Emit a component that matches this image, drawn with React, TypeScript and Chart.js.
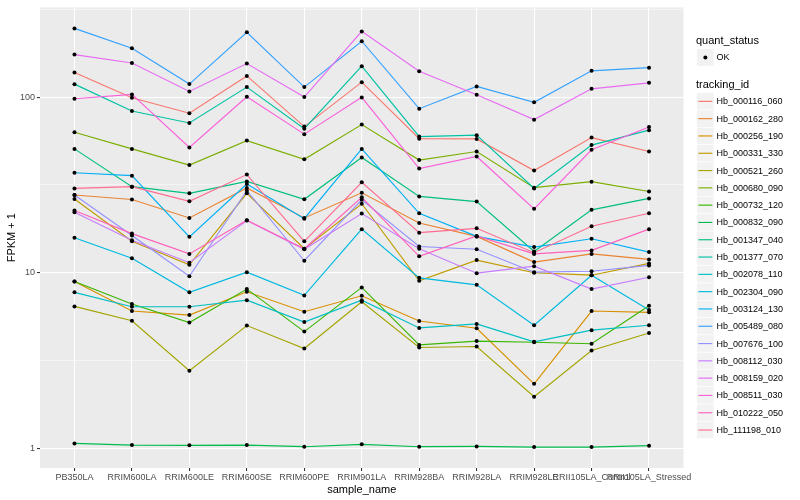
import React, { useEffect, useRef } from "react";
import { Chart, registerables } from "chart.js";
Chart.register(...registerables);

const FONT = "'Liberation Sans', Arial, Helvetica, sans-serif";

const categories = [
  "PB350LA", "RRIM600LA", "RRIM600LE", "RRIM600SE", "RRIM600PE", "RRIM901LA",
  "RRIM928BA", "RRIM928LA", "RRIM928LE", "RRII105LA_Control", "RRII105LA_Stressed",
];

const trackingIds = [
  "Hb_000116_060", "Hb_000162_280", "Hb_000256_190", "Hb_000331_330", "Hb_000521_260",
  "Hb_000680_090", "Hb_000732_120", "Hb_000832_090", "Hb_001347_040", "Hb_001377_070",
  "Hb_002078_110", "Hb_002304_090", "Hb_003124_130", "Hb_005489_080", "Hb_007676_100",
  "Hb_008112_030", "Hb_008159_020", "Hb_008511_030", "Hb_010222_050", "Hb_111198_010",
];

const colors = [
  "#F8766D", "#EA8331", "#D89000", "#C09B00", "#A3A500", "#7CAE00", "#39B600", "#00BB4E",
  "#00BF7D", "#00C1A3", "#00BFC4", "#00BAE0", "#00B0F6", "#35A2FF", "#9590FF", "#C77CFF",
  "#E76BF3", "#FA62DB", "#FF62BC", "#FF6C91",
];

const hb_000116_060 = [138, 99.1, 80.9, 132, 67.9, 121.6, 58.0, 57.8, 38.2, 58.8, 49.0];
const hb_000162_280 = [27.7, 26.1, 20.5, 30.4, 20.5, 28.5, 19.2, 16.1, 11.5, 12.8, 11.9];
const hb_000256_190 = [8.91, 6.05, 5.74, 7.79, 6.0, 7.39, 5.31, 4.83, 2.33, 6.05, 5.95];
const hb_000331_330 = [26.3, 15.1, 11.1, 28.3, 13.7, 24.7, 8.99, 11.8, 10.0, 9.68, 11.3];
const hb_000521_260 = [6.43, 5.33, 2.77, 5.0, 3.7, 6.83, 3.75, 3.8, 1.97, 3.61, 4.54];
const hb_000680_090 = [63.1, 50.7, 41.0, 56.5, 44.2, 69.7, 43.8, 49.0, 30.5, 33.0, 29.0];
const hb_000732_120 = [8.91, 6.63, 5.2, 8.07, 4.62, 8.25, 3.88, 4.08, 4.02, 3.94, 6.49];
const hb_000832_090 = [1.067, 1.044, 1.04, 1.044, 1.022, 1.054, 1.022, 1.026, 1.017, 1.017, 1.036];
const hb_001347_040 = [50.7, 30.9, 28.3, 33.1, 26.2, 45.3, 27.2, 25.4, 13.2, 22.8, 26.5];
const hb_001377_070 = [118.5, 83.3, 71.2, 114, 66.1, 149.9, 59.6, 60.7, 30.2, 53.3, 64.8];
const hb_002078_110 = [7.73, 6.4, 6.4, 6.98, 5.24, 6.98, 4.85, 5.11, 4.04, 4.71, 5.02];
const hb_002304_090 = [15.8, 12.1, 7.73, 10.07, 7.43, 17.7, 9.35, 8.53, 5.02, 9.68, 6.13];
const hb_003124_130 = [37.1, 35.7, 16.0, 32.0, 20.3, 50.7, 21.8, 16.1, 14.0, 15.6, 13.1];
const hb_005489_080 = [246, 189.7, 118.6, 234, 114, 208, 85.9, 115, 93.3, 141, 147];
const hb_007676_100 = [27.7, 16.3, 9.55, 29.3, 11.7, 26.0, 14.1, 13.6, 10.07, 10.2, 11.0];
const hb_008112_030 = [22.1, 15.3, 11.4, 19.8, 13.6, 21.7, 13.7, 9.94, 10.9, 8.07, 9.43];
const hb_008159_020 = [174.6, 156.4, 107.7, 155.2, 100, 236.6, 140.4, 103, 74.4, 111.4, 120.5];
const hb_008511_030 = [97.8, 103.5, 51.6, 100.4, 61.5, 99.6, 39.2, 45.9, 23.1, 50.1, 67.6];
const hb_010222_050 = [22.6, 16.7, 12.8, 19.9, 13.7, 26.9, 12.4, 16.2, 12.8, 13.4, 17.7];
const hb_111198_010 = [30.2, 30.9, 25.5, 36.2, 15.1, 32.7, 16.9, 17.9, 13.0, 18.4, 21.8];

const seriesValues = [
  hb_000116_060, hb_000162_280, hb_000256_190, hb_000331_330, hb_000521_260,
  hb_000680_090, hb_000732_120, hb_000832_090, hb_001347_040, hb_001377_070,
  hb_002078_110, hb_002304_090, hb_003124_130, hb_005489_080, hb_007676_100,
  hb_008112_030, hb_008159_020, hb_008511_030, hb_010222_050, hb_111198_010,
];

const yMajorTicks = [1, 10, 100];
const yMinorTicks = [3.1623, 31.623, 316.23];
const quantStatus = ["OK"];

const isMajor = (v: any) => yMajorTicks.some((m) => Math.abs(m - v) < 1e-6);

export default function App() {
  const ref = useRef<HTMLCanvasElement>(null);

  useEffect(() => {
    if (!ref.current) return;
    const panelBg = {
      id: "panelBg",
      beforeDraw(chart: any) {
        const { ctx, chartArea: a } = chart;
        ctx.save();
        ctx.fillStyle = "#EBEBEB";
        ctx.fillRect(a.left, a.top, a.right - a.left, a.bottom - a.top);
        ctx.restore();
      },
    };

    const datasets: any[] = seriesValues.map((vals, i) => ({
      type: "line",
      label: trackingIds[i],
      data: vals.map((v, j) => ({ x: j, y: v })),
      borderColor: colors[i],
      backgroundColor: colors[i],
      borderWidth: 1.15,
      pointRadius: 0,
      pointHoverRadius: 0,
      fill: false,
      tension: 0,
      order: seriesValues.length - i,
    }));
    const pts: any[] = [];
    seriesValues.forEach((vals) => vals.forEach((v, j) => pts.push({ x: j, y: v })));
    datasets.push({
      type: "scatter",
      label: quantStatus[0],
      data: pts,
      backgroundColor: "#000000",
      borderWidth: 0,
      pointRadius: 2,
      pointHoverRadius: 2,
      order: -1,
    });

    const chart = new Chart(ref.current, {
      type: "line",
      data: { datasets },
      plugins: [panelBg],
      options: {
        animation: false,
        responsive: false,
        devicePixelRatio: 1,
        layout: { padding: { left: 0, right: 116.5, top: 5, bottom: 0 } },
        plugins: { legend: { display: false }, tooltip: { enabled: false } },
        events: [],
        scales: {
          x: {
            type: "linear",
            min: -0.6,
            max: 10.6,
            afterBuildTicks: (scale: any) => {
              scale.ticks = categories.map((_, i) => ({ value: i }));
            },
            afterFit: (scale: any) => {
              scale.height = 32;
            },
            ticks: {
              autoSkip: false,
              maxRotation: 0,
              minRotation: 0,
              padding: 1.5,
              color: "#4D4D4D",
              font: { family: FONT, size: 9 },
              callback: (v: any) => categories[v as number] ?? "",
            },
            grid: {
              color: "#FFFFFF",
              lineWidth: 1.07,
              tickColor: "#333333",
              tickLength: 3,
              tickWidth: 1.07,
            },
            border: { display: false },
            title: {
              display: true,
              text: "sample_name",
              color: "#000000",
              font: { family: FONT, size: 11 },
              padding: { top: 0, bottom: 3.4 },
            },
          },
          y: {
            type: "logarithmic",
            min: 0.773,
            max: 324,
            afterBuildTicks: (scale: any) => {
              scale.ticks = [...yMajorTicks, ...yMinorTicks]
                .sort((a, b) => a - b)
                .map((v) => ({ value: v }));
            },
            afterFit: (scale: any) => {
              scale.width = 40;
            },
            ticks: {
              autoSkip: false,
              padding: 2,
              color: "#4D4D4D",
              font: { family: FONT, size: 9 },
              callback: (v: any) => (isMajor(v) ? String(Math.round(v)) : ""),
            },
            grid: {
              color: "#FFFFFF",
              lineWidth: (c: any) => (isMajor(c.tick?.value) ? 1.07 : 0.53),
              tickColor: (c: any) => (isMajor(c.tick?.value) ? "#333333" : "rgba(0,0,0,0)"),
              tickLength: 3,
              tickWidth: 1.07,
            },
            border: { display: false },
            title: {
              display: true,
              text: "FPKM + 1",
              color: "#000000",
              font: { family: FONT, size: 11 },
              padding: { top: 5.4, bottom: 0 },
            },
          },
        },
      } as any,
    });
    return () => chart.destroy();
  }, []);

  const keyPitch = 17.3;
  const keyTop0 = 92.7;
  const keyLeft = 696.7;

  return (
    <div style={{ position: "absolute", left: 0, top: 0, width: 800, height: 500, background: "#FFFFFF", fontFamily: FONT }}>
      <canvas ref={ref} width={800} height={500} style={{ position: "absolute", left: 0, top: 0, width: 800, height: 500 }} />
      <svg width={800} height={500} style={{ position: "absolute", left: 0, top: 0, pointerEvents: "none" }}>
        <rect x={keyLeft} y={48.8} width={17.3} height={17.3} fill="#F2F2F2" stroke="#FFFFFF" strokeWidth={0.6} />
        <circle cx={keyLeft + 8.65} cy={48.8 + 8.65} r={2} fill="#000000" />
        {trackingIds.map((id, i) => {
          const t = keyTop0 + i * keyPitch;
          return (
            <g key={id}>
              <rect x={keyLeft} y={t} width={17.3} height={17.3} fill="#F2F2F2" stroke="#FFFFFF" strokeWidth={0.6} />
              <line x1={keyLeft + 1.7} x2={keyLeft + 15.6} y1={t + 8.65} y2={t + 8.65} stroke={colors[i]} strokeWidth={1.15} />
            </g>
          );
        })}
      </svg>
      <div style={{ position: "absolute", left: 696, top: 33, fontSize: 11, lineHeight: "14px", color: "#000" }}>quant_status</div>
      <div style={{ position: "absolute", left: 716.5, top: 50, fontSize: 9, lineHeight: "14px", color: "#000" }}>{quantStatus[0]}</div>
      <div style={{ position: "absolute", left: 696, top: 77.3, fontSize: 11, lineHeight: "14px", color: "#000" }}>tracking_id</div>
      {trackingIds.map((id, i) => (
        <div key={id} style={{ position: "absolute", left: 716.5, top: keyTop0 + i * keyPitch + 1.6, fontSize: 9, lineHeight: "14px", color: "#000", whiteSpace: "nowrap" }}>{id}</div>
      ))}
    </div>
  );
}
